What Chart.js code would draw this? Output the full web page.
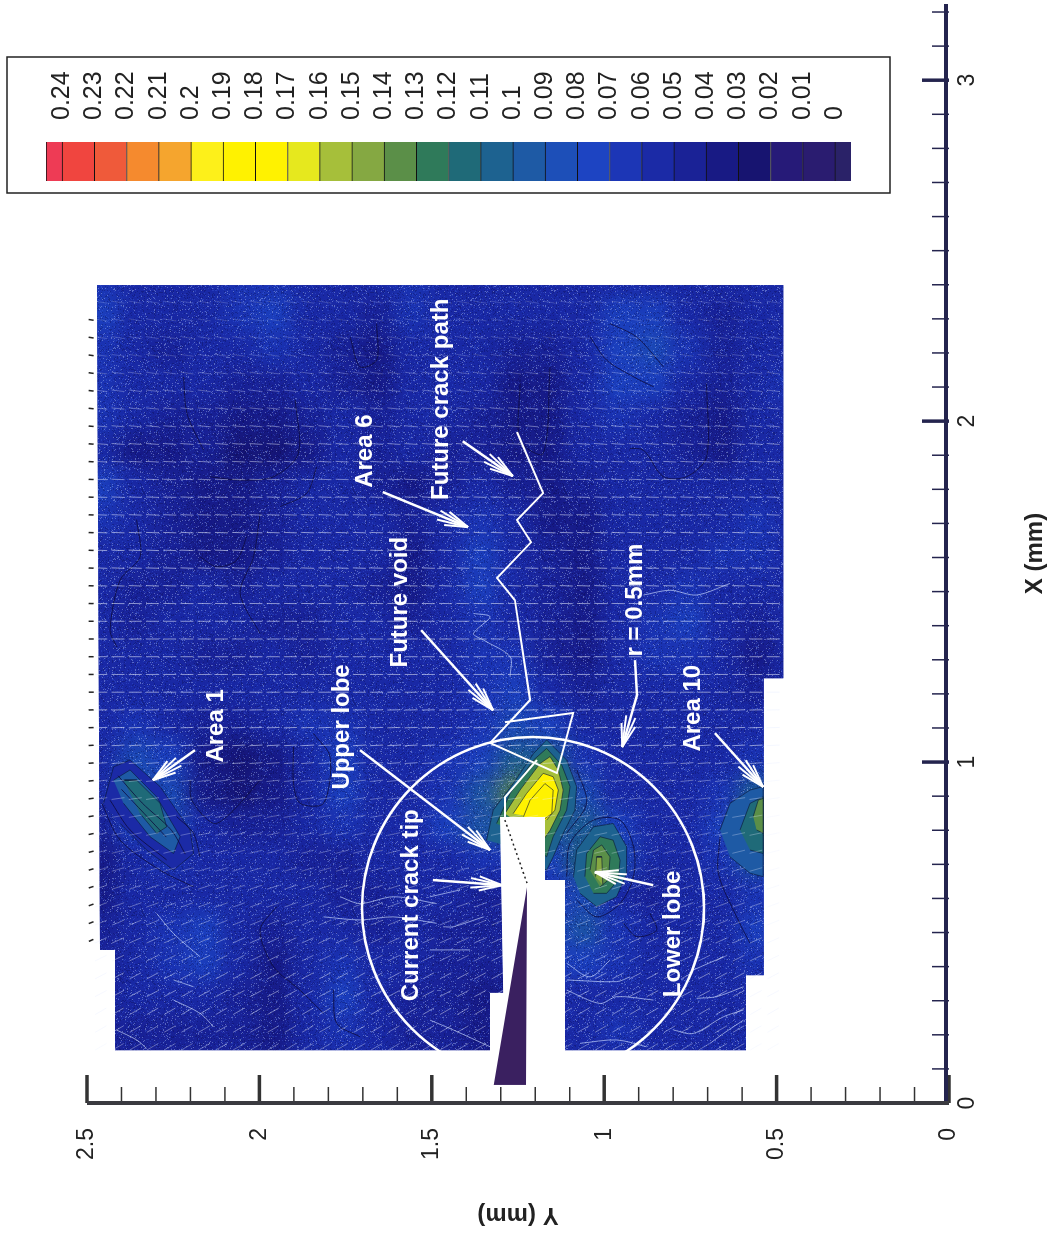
<!DOCTYPE html>
<html>
<head>
<meta charset="utf-8">
<title>Crack tip strain map</title>
<script src="https://cdn.jsdelivr.net/npm/chart.js@4"></script>
<style>
  html, body { margin: 0; padding: 0; background: #fff; overflow: hidden; }
  #wrap { position: absolute; left: 0; top: 0; width: 1053px; height: 1237px; overflow: hidden; }
  canvas { position: absolute; left: 0; top: 1237px; transform-origin: 0 0; transform: rotate(-90deg); }
</style>
</head>
<body>
<div id="wrap">
  <canvas id="mapChart" width="1237" height="1053"></canvas>
  <canvas id="barChart" width="1237" height="1053"></canvas>
</div>
<script>
// --- Axis ticks ---
const xTicks = [0,0.1,0.2,0.3,0.4,0.5,0.6,0.7,0.8,0.9,1,1.1,1.2,1.3,1.4,1.5,1.6,1.7,1.8,1.9,2,2.1,2.2,2.3,2.4,2.5,2.6,2.7,2.8,2.9,3,3.1,3.2];
const xLabels = { 0: "0", 1: "1", 2: "2", 3: "3" };
const yTicks = [0,0.1,0.2,0.3,0.4,0.5,0.6,0.7,0.8,0.9,1,1.1,1.2,1.3,1.4,1.5,1.6,1.7,1.8,1.9,2,2.1,2.2,2.3,2.4,2.5];
const yLabels = { 0: "0", 0.5: "0.5", 1: "1", 1.5: "1.5", 2: "2", 2.5: "2.5" };

// --- Colour key ---
const levels = [0.24,0.23,0.22,0.21,0.2,0.19,0.18,0.17,0.16,0.15,0.14,0.13,0.12,0.11,0.1,0.09,0.08,0.07,0.06,0.05,0.04,0.03,0.02,0.01,0];
const levelNames = ["0.24","0.23","0.22","0.21","0.2","0.19","0.18","0.17","0.16","0.15","0.14","0.13","0.12","0.11","0.1","0.09","0.08","0.07","0.06","0.05","0.04","0.03","0.02","0.01","0"];
// band colours, lowest band (below 0) first
const bandColors = ["#2a2268","#2a1c70","#261a78","#171470","#181a84","#1a2296","#1b2aa6","#1c36b6","#1d44c2","#1d4fb8","#1e5aa5","#1d6290","#1f6a78","#2f7a5a","#5b8f48","#85a842","#a6bf3a","#e6e81e","#fff200","#fff200","#fdf01a","#f5a52e","#f58a2e","#ef5a3a","#f0453f","#ee3b55"];

// --- Measured field: rows are X, columns are Y ---
const fieldX = [2.4,2.3,2.2,2.1,2,1.9,1.8,1.7,1.6,1.5,1.4,1.3,1.2,1.1,1,0.9,0.8,0.7,0.6,0.5,0.4,0.3,0.2,0.1];
const fieldY = [2.45,2.35,2.25,2.15,2.05,1.95,1.85,1.75,1.65,1.55,1.45,1.35,1.25,1.15,1.05,0.95,0.85,0.75,0.65,0.55,0.45];
const field = [
  [.06,.05,.05,.05,.06,.06,.05,.05,.05,.06,.05,.05,.05,.05,.05,.05,.05,.05,.05,.05,.05],
  [.07,.05,.05,.05,.06,.07,.05,.05,.04,.06,.05,.05,.05,.05,.05,.07,.07,.05,.04,.05,.05],
  [.06,.05,.04,.05,.05,.06,.05,.04,.03,.05,.05,.05,.04,.04,.05,.07,.08,.06,.04,.05,.05],
  [.06,.05,.05,.05,.04,.04,.05,.04,.03,.05,.05,.05,.03,.03,.05,.07,.07,.05,.04,.05,.06],
  [.06,.05,.04,.04,.03,.03,.04,.05,.04,.05,.05,.04,.03,.03,.05,.06,.05,.04,.03,.05,.05],
  [.05,.03,.03,.04,.02,.02,.03,.05,.04,.05,.04,.04,.03,.03,.05,.05,.05,.04,.03,.05,.05],
  [.07,.05,.04,.03,.03,.04,.05,.05,.04,.03,.04,.05,.04,.03,.04,.05,.05,.05,.05,.05,.05],
  [.06,.05,.04,.03,.03,.04,.05,.05,.05,.04,.05,.06,.05,.03,.03,.05,.05,.05,.05,.06,.05],
  [.05,.05,.04,.03,.03,.04,.05,.05,.05,.03,.05,.07,.05,.04,.03,.05,.05,.05,.06,.06,.05],
  [.05,.04,.04,.05,.04,.05,.05,.05,.04,.03,.05,.07,.05,.04,.03,.05,.05,.06,.05,.05,.05],
  [.05,.04,.05,.05,.05,.04,.04,.05,.05,.04,.05,.06,.05,.04,.03,.05,.06,.07,.05,.04,.05],
  [.05,.05,.05,.04,.04,.05,.04,.05,.05,.05,.05,.06,.06,.04,.03,.05,.06,.06,.05,.03,.05],
  [.05,.05,.05,.05,.05,.05,.05,.05,.05,.05,.05,.06,.07,.05,.04,.05,.05,.05,.05,.04,.05],
  [.05,.06,.05,.04,.04,.05,.06,.06,.05,.05,.05,.06,.08,.07,.05,.05,.05,.05,.05,.05,.05],
  [.05,.08,.07,.03,.02,.03,.05,.07,.05,.05,.06,.07,.10,.10,.06,.05,.05,.05,.05,.06,.05],
  [.05,.09,.08,.03,.02,.03,.05,.07,.05,.05,.06,.09,.13,.13,.08,.05,.05,.05,.06,.10,.05],
  [.04,.07,.08,.05,.04,.04,.05,.06,.05,.05,.07,.09,.10,.10,.10,.07,.05,.05,.07,.13,.05],
  [.03,.05,.06,.05,.05,.05,.04,.04,.05,.05,.05,.06,.06,.07,.11,.08,.05,.05,.06,.09,.05],
  [.03,.05,.05,.05,.05,.05,.05,.04,.04,.05,.05,.04,.04,.06,.08,.05,.04,.05,.05,.06,.05],
  [.04,.05,.06,.07,.05,.04,.05,.05,.04,.05,.04,.04,.04,.07,.09,.06,.05,.05,.05,.07,.05],
  [.04,.05,.06,.07,.05,.03,.05,.06,.05,.05,.04,.04,.04,.07,.07,.06,.05,.05,.05,.06,.05],
  [.04,.05,.05,.05,.04,.03,.05,.07,.05,.04,.04,.03,.03,.05,.05,.05,.05,.05,.05,.05,.05],
  [.04,.04,.04,.04,.04,.03,.05,.06,.05,.04,.04,.03,.03,.05,.05,.06,.05,.05,.05,.05,.05],
  [.04,.04,.04,.04,.04,.03,.05,.05,.05,.04,.04,.03,.03,.05,.05,.05,.05,.05,.05,.05,.05]
];

// --- Region that was measured, and the slot cut out of it ---
const outlineX = [2.399,2.399,1.246,1.246,0.375,0.375,0.155,0.155,0.654,0.654,0.839,0.839,0.323,0.323,0.155,0.155,0.449,0.449];
const outlineY = [2.471,0.481,0.481,0.537,0.537,0.589,0.589,1.114,1.114,1.172,1.172,1.302,1.293,1.331,1.331,2.419,2.419,2.462];
const slotX = [0.839,0.839,0.654,0.654,0.05,0.05,0.323,0.323];
const slotY = [1.302,1.172,1.172,1.114,1.114,1.331,1.331,1.293];

// --- Contour islands: X list, Y list, level ---
const tip10X = [.771,.859,.937,1.025,1.065,1.006,.928,.859,.791,.722,.683,.752];
const tip10Y = [1.341,1.322,1.264,1.205,1.167,1.109,1.080,1.085,1.119,1.148,1.167,1.273];
const tip12X = [.820,.908,1.006,1.040,.991,.928,.859,.781,.722,.781];
const tip12Y = [1.312,1.273,1.205,1.167,1.123,1.099,1.109,1.148,1.167,1.234];
const tip15X = [.849,.918,.996,1.016,.977,.918,.859,.800,.771];
const tip15Y = [1.288,1.244,1.186,1.157,1.133,1.119,1.128,1.157,1.177];
const tip17X = [.849,.908,.967,.957,.918,.859,.830];
const tip17Y = [1.264,1.225,1.177,1.148,1.133,1.143,1.167];
const tip18X = [.840,.888,.937,.918,.849,.830];
const tip18Y = [1.234,1.215,1.172,1.148,1.152,1.177];
const low10X = [.664,.742,.810,.820,.752,.674,.605,.576,.615];
const low10Y = [1.089,1.080,1.031,.974,.935,.935,.964,1.022,1.070];
const low12X = [.664,.732,.781,.771,.712,.654,.615,.615];
const low12Y = [1.056,1.051,1.012,.974,.954,.959,.993,1.031];
const low14X = [.683,.742,.757,.722,.654,.634];
const low14Y = [1.041,1.031,1.007,.983,.988,1.012];
const low15X = [.664,.722,.722,.639];
const low15Y = [1.025,1.022,1.007,1.004];
const area10aX = [.801,.879,.918,.928,.664,.674,.722];
const area10aY = [.664,.635,.577,.539,.539,.577,.635];
const area10bX = [.801,.879,.898,.732,.742];
const area10bY = [.606,.577,.539,.539,.577];
const area10cX = [.840,.889,.893,.791,.801];
const area10cY = [.568,.553,.539,.539,.558];
const area1aX = [.879,.986,1.006,.928,.801,.732,.683,.742,.820];
const area1aY = [2.452,2.423,2.375,2.288,2.201,2.191,2.249,2.327,2.404];
const area1bX = [.947,.977,.898,.781,.732,.781,.879];
const area1bY = [2.423,2.375,2.298,2.230,2.249,2.317,2.394];
const area1cX = [.947,.947,.879,.810,.791,.849];
const area1cY = [2.394,2.356,2.288,2.269,2.298,2.346];

// --- Open contour lines ---
const darkContours = [
  { x: [1.837,1.827,1.837,1.905,2.062], y: [2.143,2.056,1.959,1.887,1.896] },
  { x: [2.130,2.022,1.915], y: [2.220,2.210,2.162] },
  { x: [1.729,1.602,1.495,1.377], y: [1.998,2.017,2.056,1.998] },
  { x: [1.749,1.788,1.866], y: [1.940,1.863,1.834] },
  { x: [1.602,1.573,1.592,1.661], y: [2.172,2.124,2.066,2.037] },
  { x: [1.710,1.602,1.534,1.387,1.338], y: [2.356,2.346,2.404,2.433,2.414] },
  { x: [2.247,2.159,2.179,2.286], y: [1.737,1.708,1.660,1.660] },
  { x: [2.247,2.179,2.130,2.101], y: [1.041,.993,.915,.857] },
  { x: [2.286,2.247,2.159], y: [.983,.906,.828] },
  { x: [2.110,1.895,1.837,1.837,1.915,1.920], y: [.703,.703,.761,.828,.886,.925] },
  { x: [2.110,1.944,1.905,2.159], y: [1.244,1.244,1.177,1.157] },
  { x: [1.045,.937,.879,.879,1.015,1.084], y: [1.901,1.901,1.882,1.814,1.795,1.843] },
  { x: [.947,.888,.820,.849,.947], y: [2.201,2.196,2.133,2.085,1.998] },
  { x: [.576,.507,.400,.331,.263], y: [1.950,1.998,1.959,1.882,1.814] },
  { x: [.331,.234,.194], y: [1.785,1.776,1.708] },
  { x: [.527,.488,.507,.556], y: [.944,.906,.848,.867] },
  { x: [.781,.674,.546,.468], y: [.664,.669,.616,.577] },
  { x: [.879,.771,.683,.634], y: [2.457,2.404,2.288,2.191] },
  { x: [.888,.801,.713], y: [2.433,2.375,2.269] },
  { x: [.960,.880,.800,.730], y: [2.410,2.340,2.255,2.215] },
  { x: [.920,.850,.780], y: [2.400,2.335,2.270] },
  { x: [.840,.791,.722], y: [2.240,2.191,2.172] },
  { x: [.977,.879,.791], y: [1.079,1.051,1.109] },
  { x: [.664,.762,.830,.830,.752,.664,.585,.546,.595], y: [1.109,1.099,1.031,.954,.915,.915,.954,1.022,1.080] }
];
const paleContours = [
  { x: [1.436,1.426,1.377,1.358,1.309,1.250], y: [1.379,1.331,1.379,1.350,1.273,1.273] },
  { x: [1.490,1.504,1.490,1.524], y: [.886,.809,.732,.635] },
  { x: [.556,.497,.429], y: [2.298,2.249,2.172] },
  { x: [.361,.341], y: [2.249,2.191] },
  { x: [.302,.263,.224], y: [2.249,2.172,2.133] },
  { x: [.214,.185,.160], y: [2.414,2.356,2.327] },
  { x: [.605,.585,.605,.585], y: [1.766,1.708,1.611,1.486] },
  { x: [.546,.537,.546,.527], y: [1.814,1.708,1.611,1.486] },
  { x: [.449,.449], y: [1.505,1.389] },
  { x: [.605,.625], y: [1.505,1.418] },
  { x: [.517,.517,.546], y: [1.467,1.438,1.350] },
  { x: [.243,.214,.165], y: [1.505,1.437,1.331] },
  { x: [.331,.292,.312,.302], y: [1.109,1.012,.964,.857] },
  { x: [.361,.356,.370], y: [1.109,.964,.925] },
  { x: [.175,.185,.165], y: [1.070,.964,.877] },
  { x: [.214,.204,.253,.273], y: [.799,.742,.654,.596] },
  { x: [.175,.204,.243], y: [.693,.654,.596] },
  { x: [.390,.429], y: [.742,.654] },
  { x: [.307,.312,.341], y: [.732,.674,.596] },
  { x: [.410,.370,.419], y: [1.109,1.041,.983] }
];

// --- Displacement vectors: one row per X ---
const vectorX = [2.349,2.297,2.245,2.193,2.141,2.089,2.037,1.985,1.933,1.881,1.829,1.777,1.725,1.673,1.621,1.569,1.517,1.465,1.413,1.361,1.309,1.257,1.205,1.153,1.101,1.049,.997,.945,.893,.841,.789,.737,.685,.633,.581,.529,.477,.425,.373,.321,.269,.217,.165];
const vectorY = [2.46,2.41,2.36,2.31,2.26,2.21,2.16,2.11,2.06,2.01,1.96,1.91,1.86,1.81,1.76,1.71,1.66,1.61,1.56,1.51,1.46,1.41,1.36,1.31,1.26,1.21,1.16,1.11,1.06,1.01,.96,.91,.86,.81,.76,.71,.66,.61,.56,.51];
const vectorTilt = [-9,-9,-9,-8,-8,-7,-6,-5,-4,-3,-2,-2,-2,-2,-2,-2,-2,-1,0,0,0,0,0,1,2,3,4,6,8,10,12,14,16,18,20,22,24,26,28,28,30,30,30];
const vectorSize = [.18,.18,.2,.2,.25,.3,.35,.4,.45,.45,.45,.5,.5,.55,.55,.55,.55,.55,.55,.55,.55,.55,.55,.55,.55,.55,.45,.35,.35,.3,.3,.3,.3,.35,.35,.35,.4,.4,.45,.45,.45,.4,.35];

// --- Crack and notes ---
const crackX = [1.968,1.789,1.710,1.645,1.540,1.475,1.182,1.056,0.968,1.144,1.117];
const crackY = [1.253,1.177,1.253,1.212,1.311,1.259,1.215,1.331,1.137,1.090,1.288];
const voidX = [.839,.897,1.006];
const voidY = [1.288,1.288,1.195];
const wedgeX = [.633,.053,.053];
const wedgeY = [1.224,1.227,1.320];
const tipPathX = [.830,.645];
const tipPathY = [1.288,1.224];
const circleX = [0.572];
const circleY = [1.2065];

const arrows = [
  { x: [1.035,.947], y: [2.187,2.309] },
  { x: [1.792,1.689], y: [1.642,1.395] },
  { x: [1.941,1.839], y: [1.410,1.265] },
  { x: [1.387,1.152], y: [1.531,1.322] },
  { x: [1.035,.742], y: [1.708,1.331] },
  { x: [.654,.639], y: [1.497,1.296] },
  { x: [1.299,1.196,1.044], y: [.911,.905,.948] },
  { x: [1.085,.927], y: [.679,.539] },
  { x: [.639,.677], y: [.858,1.027] }
];

const noteText = ["Area 1","Upper lobe","Current crack tip","Future void","Area 6","Future crack path","r = 0.5mm","Area 10","Lower lobe"];
const noteX = [1.106,1.103,0.58,1.469,1.912,2.064,1.475,1.158,0.496];
const noteY = [2.126,1.76,1.56,1.592,1.694,1.473,0.911,0.742,0.80];

const FONT = '"Liberation Sans", Arial, sans-serif';

function bandColor(v) {
  return bandColors[Math.floor(v * 100 + 1e-6) + 1];
}

function zip(xs, ys) {
  return xs.map((x, i) => ({ x: x, y: ys[i] }));
}

function island(xs, ys, v) {
  return {
    data: zip(xs, ys), showLine: true, fill: "shape", tension: 0,
    backgroundColor: bandColor(v), borderColor: "rgba(8,20,50,0.75)", borderWidth: 0.8, pointRadius: 0
  };
}

function contour(c, color) {
  return { data: zip(c.x, c.y), showLine: true, tension: 0.3, borderColor: color, borderWidth: 1, pointRadius: 0 };
}

function whiteLine(xs, ys, width) {
  return { data: zip(xs, ys), showLine: true, tension: 0, borderColor: "#fff", borderWidth: width || 2.5, pointRadius: 0 };
}

// --- Build datasets in paint order ---
const fieldPoints = [];
fieldX.forEach((x, r) => fieldY.forEach((y, c) => fieldPoints.push({ x: x, y: y, v: field[r][c] })));

const vectorPoints = [];
vectorX.forEach((x, r) => vectorY.forEach(y => vectorPoints.push({ x: x, y: y, tilt: vectorTilt[r], size: vectorSize[r] })));

const edgePoints = [];
vectorX.forEach((x, r) => { if (x > 0.45 && x < 2.31) edgePoints.push({ x: x, y: 2.488, tilt: vectorTilt[r] }); });

const layers = [
  {
    data: fieldPoints, pointStyle: "rect", pointRadius: 27, borderWidth: 0, pointBorderWidth: 0,
    pointBackgroundColor: c => bandColor(c.raw.v)
  },
  island(tip10X, tip10Y, .10), island(tip12X, tip12Y, .12), island(tip15X, tip15Y, .15), island(tip17X, tip17Y, .17), island(tip18X, tip18Y, .18),
  island(low10X, low10Y, .10), island(low12X, low12Y, .12), island(low14X, low14Y, .13), island(low15X, low15Y, .14),
  island(area10aX, area10aY, .09), island(area10bX, area10bY, .11), island(area10cX, area10cY, .13),
  island(area1aX, area1aY, .05), island(area1bX, area1bY, .09), island(area1cX, area1cY, .11)
];
darkContours.forEach(c => layers.push(contour(c, "rgba(12,10,60,0.8)")));
paleContours.forEach(c => layers.push(contour(c, "rgba(205,220,255,0.65)")));
layers.push(
  {
    data: vectorPoints, pointStyle: "line", pointRadius: 6.5, pointBorderWidth: 1,
    pointRotation: c => 90 - c.raw.tilt,
    pointBorderColor: c => "rgba(235,240,255," + c.raw.size + ")"
  },
  {
    data: edgePoints, pointStyle: "line", pointRadius: 2.5, pointBorderWidth: 1.5,
    pointRotation: c => 90 - c.raw.tilt, pointBorderColor: "#222"
  },
  { data: zip(slotX, slotY), showLine: true, fill: "shape", tension: 0, backgroundColor: "#fff", borderWidth: 0, pointRadius: 0 },
  { data: zip(tipPathX, tipPathY), showLine: true, borderColor: "#222", borderWidth: 1.5, borderDash: [2, 3], pointRadius: 0 },
  whiteLine(crackX, crackY, 2),
  whiteLine(voidX, voidY, 2),
  { data: zip(circleX, circleY), pointRadius: 171, pointBorderWidth: 2.5, pointBorderColor: "#fff", pointBackgroundColor: "rgba(0,0,0,0)" },
  { data: zip(wedgeX, wedgeY), showLine: true, fill: "shape", tension: 0, backgroundColor: "#3a2060", borderWidth: 0, pointRadius: 0 }
);
arrows.forEach(a => layers.push(whiteLine(a.x, a.y, 2.5)));
layers.forEach((d, i) => { d.order = layers.length - i; });

// --- Plugins ---
function tracePath(chart, xs, ys) {
  const sx = chart.scales.x, sy = chart.scales.y, ctx = chart.ctx;
  ctx.beginPath();
  xs.forEach((x, i) => {
    const px = sx.getPixelForValue(x), py = sy.getPixelForValue(ys[i]);
    if (i === 0) ctx.moveTo(px, py); else ctx.lineTo(px, py);
  });
  ctx.closePath();
}

// scan grain, a fixed hashed tile laid over the field
function grainTile() {
  const tile = document.createElement("canvas");
  tile.width = 211;
  tile.height = 211;
  const t = tile.getContext("2d");
  for (let i = 0; i < 211; i++) {
    for (let j = 0; j < 211; j++) {
      const h = (((i * 73856093) ^ (j * 19349663)) >>> 0) % 101;
      if (h < 5) t.fillStyle = "rgba(190,210,255,0.38)";
      else if (h < 13) t.fillStyle = "rgba(70,110,235,0.3)";
      else if (h < 24) t.fillStyle = "rgba(8,8,60,0.28)";
      else continue;
      t.fillRect(i, j, 1, 1);
    }
  }
  return tile;
}

const fieldBlur = {
  id: "fieldBlur",
  beforeDatasetDraw(chart, args) {
    if (args.index !== 0) return;
    const ctx = chart.ctx;
    ctx.save();
    tracePath(chart, outlineX, outlineY);
    ctx.fillStyle = bandColor(.05);
    ctx.fill();
    ctx.clip();
    ctx.filter = "blur(11px)";
  },
  afterDatasetDraw(chart, args) {
    if (args.index !== 0) return;
    const ctx = chart.ctx;
    ctx.filter = "none";
    ctx.fillStyle = ctx.createPattern(grainTile(), "repeat");
    ctx.fillRect(0, 0, chart.width, chart.height);
    ctx.restore();
  }
};

const axisMarks = {
  id: "axisMarks",
  afterDatasetsDraw(chart) {
    const ctx = chart.ctx, a = chart.chartArea, sx = chart.scales.x, sy = chart.scales.y;
    ctx.save();
    ctx.strokeStyle = "#24244e";
    xTicks.forEach(v => {
      const p = sx.getPixelForValue(v), major = xLabels[v] !== undefined;
      ctx.lineWidth = major ? 3.5 : 1.5;
      ctx.beginPath();
      ctx.moveTo(p, a.bottom);
      ctx.lineTo(p, a.bottom - (major ? 27 : 17));
      ctx.stroke();
    });
    yTicks.forEach(v => {
      const p = sy.getPixelForValue(v), major = yLabels[v] !== undefined;
      ctx.lineWidth = major ? 3.5 : 1.5;
      ctx.strokeStyle = "#333";
      ctx.beginPath();
      ctx.moveTo(a.left, p);
      ctx.lineTo(a.left + (major ? 28 : 16), p);
      ctx.stroke();
    });
    ctx.lineWidth = 4;
    ctx.strokeStyle = "#24244e";
    ctx.beginPath();
    ctx.moveTo(a.right, a.bottom - 3);
    ctx.lineTo(a.left, a.bottom - 3);
    ctx.stroke();
    ctx.strokeStyle = "#3a3a40";
    ctx.beginPath();
    ctx.moveTo(a.left, a.bottom);
    ctx.lineTo(a.left, a.top);
    ctx.stroke();

    // arrow heads
    ctx.strokeStyle = "#fff";
    ctx.lineWidth = 2;
    arrows.forEach(ar => {
      const n = ar.x.length;
      const ex = sx.getPixelForValue(ar.x[n - 1]), ey = sy.getPixelForValue(ar.y[n - 1]);
      const bx = sx.getPixelForValue(ar.x[n - 2]), by = sy.getPixelForValue(ar.y[n - 2]);
      const ang = Math.atan2(by - ey, bx - ex);
      [-0.3, -0.15, 0.15, 0.3].forEach(d => {
        const len = Math.abs(d) > 0.2 ? 24 : 32;
        ctx.beginPath();
        ctx.moveTo(ex, ey);
        ctx.lineTo(ex + Math.cos(ang + d) * len, ey + Math.sin(ang + d) * len);
        ctx.stroke();
      });
    });

    // notes
    ctx.fillStyle = "#fff";
    ctx.font = "bold 24px " + FONT;
    ctx.textAlign = "center";
    ctx.textBaseline = "middle";
    noteText.forEach((t, i) => {
      ctx.fillText(t, sx.getPixelForValue(noteX[i]), sy.getPixelForValue(noteY[i]));
    });
    ctx.restore();
  }
};

const whitePage = {
  id: "whitePage",
  beforeDraw(chart) {
    chart.ctx.save();
    chart.ctx.fillStyle = "#fff";
    chart.ctx.fillRect(0, 0, chart.width, chart.height);
    chart.ctx.restore();
  }
};

// --- Main chart ---
new Chart(document.getElementById("mapChart"), {
  type: "scatter",
  data: { datasets: layers },
  plugins: [whitePage, fieldBlur, axisMarks],
  options: {
    responsive: false,
    animation: false,
    layout: { autoPadding: false, padding: { top: 87, right: 4, left: 0, bottom: 0 } },
    plugins: { legend: { display: false }, tooltip: { enabled: false } },
    scales: {
      x: {
        type: "linear", min: 0, max: 3.2235,
        afterBuildTicks: s => { s.ticks = xTicks.map(v => ({ value: v })); },
        afterFit: s => { s.height = 104; },
        grid: { display: false },
        border: { display: false },
        ticks: {
          autoSkip: false, maxRotation: 0, minRotation: 0, padding: -3,
          color: "#222", font: { family: FONT, size: 23 },
          callback: v => xLabels[v] || ""
        },
        title: { display: true, text: "X (mm)", color: "#222", font: { family: FONT, size: 24, weight: "bold" }, padding: { top: 0, bottom: 3 } }
      },
      y: {
        type: "linear", min: 0, max: 2.5,
        afterBuildTicks: s => { s.ticks = yTicks.map(v => ({ value: v })); },
        afterFit: s => { s.width = 134; },
        grid: { display: false },
        border: { display: false },
        ticks: {
          autoSkip: false, padding: 17,
          color: "#222", font: { family: FONT, size: 23 },
          callback: v => yLabels[v] || ""
        },
        title: { display: true, text: "Y (mm)", color: "#222", font: { family: FONT, size: 24, weight: "bold" }, padding: { top: 8, bottom: 0 } }
      }
    }
  }
});

// --- Colour key chart ---
const keyEdges = [-0.005].concat(levels.slice().reverse(), [0.245]);
const keyBands = bandColors.map((col, i) => ({
  data: [[keyEdges[i], keyEdges[i + 1]]],
  backgroundColor: col,
  borderColor: "#111",
  borderWidth: { top: 1, bottom: 0, left: 0, right: 0 },
  barPercentage: 1,
  categoryPercentage: 1,
  grouped: false,
  borderSkipped: false
}));

const keyFrame = {
  id: "keyFrame",
  afterDraw(chart) {
    const a = chart.chartArea, ctx = chart.ctx;
    ctx.save();
    ctx.strokeStyle = "#222";
    ctx.lineWidth = 1.5;
    ctx.strokeRect(a.left - 12, a.top - 39, a.right - a.left + 85 + 12, a.bottom - a.top + 78);
    ctx.restore();
  }
};

new Chart(document.getElementById("barChart"), {
  type: "bar",
  data: { labels: [""], datasets: keyBands },
  plugins: [keyFrame],
  options: {
    responsive: false,
    animation: false,
    layout: { autoPadding: false, padding: { left: 1056, top: 46, bottom: 202, right: 0 } },
    plugins: { legend: { display: false }, tooltip: { enabled: false } },
    scales: {
      x: { display: false, grid: { display: false } },
      y: {
        position: "right", min: -0.005, max: 0.245,
        afterBuildTicks: s => { s.ticks = levels.map(v => ({ value: v })); },
        afterFit: s => { s.width = 142; },
        grid: { display: false },
        border: { display: false },
        ticks: {
          autoSkip: false, padding: 14, color: "#222",
          font: { family: FONT, size: 25 },
          callback: v => levelNames[levels.indexOf(v)]
        }
      }
    }
  }
});
</script>
</body>
</html>
